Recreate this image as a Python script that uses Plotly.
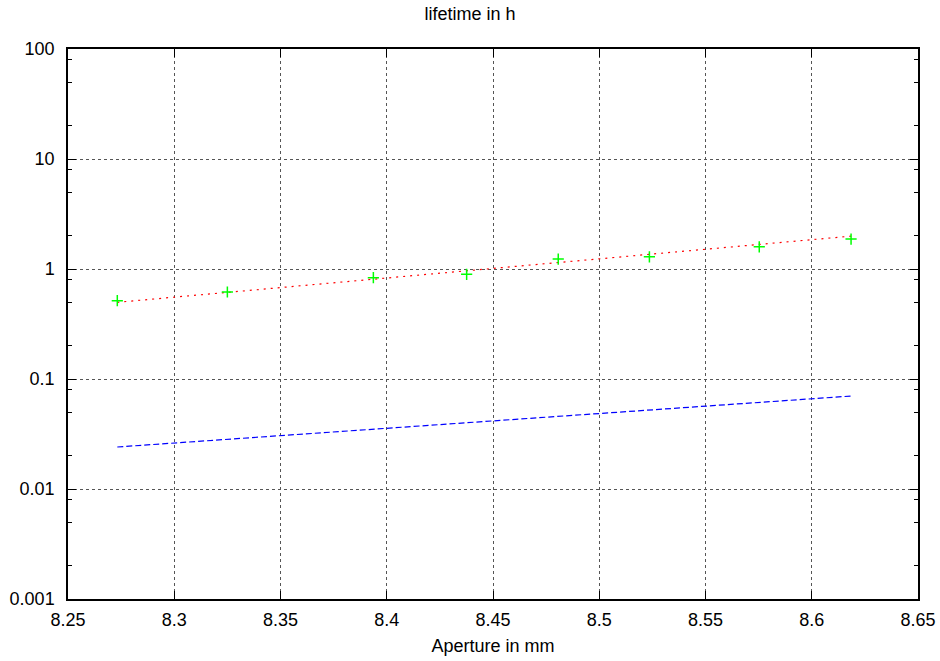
import plotly.graph_objects as go

# Measured data points
aperture_mm = [8.2732, 8.3250, 8.3937, 8.4376, 8.4807, 8.5236, 8.5753, 8.6185]
lifetime_h = [0.515, 0.618, 0.834, 0.895, 1.23, 1.29, 1.59, 1.87]

# Fit line (red dotted)
fit_x = [8.2732, 8.4376, 8.6185]
fit_y = [0.498, 0.96, 1.99]

# Second estimate (blue dashed)
est_x = [8.2732, 8.6185]
est_y = [0.0241, 0.070]

x_ticks = [8.25, 8.3, 8.35, 8.4, 8.45, 8.5, 8.55, 8.6, 8.65]
x_ticktext = ["8.25", "8.3", "8.35", "8.4", "8.45", "8.5", "8.55", "8.6", "8.65"]
y_ticks = [0.001, 0.01, 0.1, 1, 10, 100]
y_ticktext = ["0.001", "0.01", "0.1", "1", "10", "100"]
y_minor = [m * 10.0 ** e for e in range(-3, 2) for m in (2, 5, 8)]

FONT = "Liberation Sans, Arial, Helvetica, sans-serif"
FS = 18

fig = go.Figure()
fig.add_trace(go.Scatter(x=fit_x, y=fit_y, mode="lines",
                         line=dict(color="#ff0000", width=1.2, dash="2px,5px"),
                         showlegend=False, hoverinfo="skip"))
fig.add_trace(go.Scatter(x=est_x, y=est_y, mode="lines",
                         line=dict(color="#0000ff", width=1.2, dash="6px,3px"),
                         showlegend=False, hoverinfo="skip"))
fig.add_trace(go.Scatter(x=aperture_mm, y=lifetime_h, mode="markers",
                         marker=dict(symbol="cross-thin", size=8,
                                     line=dict(color="#00ff00", width=1.5)),
                         showlegend=False))

fig.update_layout(
    width=940, height=661,
    margin=dict(l=68, r=22, t=49, b=62, autoexpand=False),
    paper_bgcolor="white", plot_bgcolor="white",
    font=dict(family=FONT, size=FS, color="black"),
    title=dict(text="lifetime in h", x=0.5, xanchor="center", y=0.98, yanchor="middle",
               font=dict(family=FONT, size=FS, color="black")),
    xaxis=dict(range=[8.25, 8.65], tickmode="array", tickvals=x_ticks, ticktext=x_ticktext,
               ticks="inside", ticklen=8, tickwidth=1, tickcolor="black",
               showline=True, linecolor="black", linewidth=1.5, mirror="ticks",
               showgrid=True, gridcolor="#555555", griddash="dot", gridwidth=1,
               zeroline=False, tickfont=dict(size=FS), ticklabelstandoff=4, automargin=False,
               title=dict(text="Aperture in mm", standoff=10, font=dict(size=FS))),
    yaxis=dict(type="log", range=[-3, 2], tickmode="array", tickvals=y_ticks, ticktext=y_ticktext,
               ticks="inside", ticklen=8, tickwidth=1, tickcolor="black",
               showline=True, linecolor="black", linewidth=1.5, mirror="ticks",
               showgrid=True, gridcolor="#555555", griddash="dot", gridwidth=1,
               zeroline=False, tickfont=dict(size=FS), ticklabelstandoff=8, automargin=False,
               minor=dict(tickmode="array", tickvals=y_minor, ticks="inside", ticklen=4,
                          tickcolor="black", showgrid=False)),
)

fig.write_html("out.html", config={"displayModeBar": False},
               post_script="document.body.style.margin='0';")
